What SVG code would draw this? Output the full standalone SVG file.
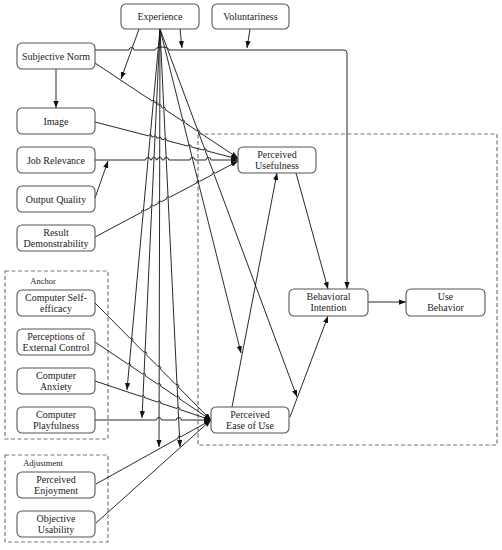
<svg xmlns="http://www.w3.org/2000/svg" width="502" height="550" viewBox="0 0 502 550">
<defs>
<marker id="ah" viewBox="0 0 8 6" refX="8" refY="3" markerWidth="7" markerHeight="5.5" markerUnits="userSpaceOnUse" orient="auto">
<path d="M0,0 L8,3 L0,6 z" fill="#111"/>
</marker>
</defs>
<style>
.n rect{fill:#fff;stroke:#555;stroke-width:1.1}
text{font-family:"Liberation Serif","DejaVu Serif",serif;font-size:10px;fill:#222;text-anchor:middle}
.lbl{font-size:8.5px}
.grp{fill:none;stroke:#777;stroke-width:1.2;stroke-dasharray:4,2.5}
#edges path,#edges line{fill:none;stroke:#111;stroke-width:0.9}
.a{marker-end:url(#ah)}
</style>
<rect width="502" height="550" fill="#fff"/>
<g id="groups">
<rect class="grp" x="198" y="134" width="299" height="311"/>
<rect class="grp" x="5" y="271" width="103" height="168"/>
<text class="lbl" x="43" y="284">Anchor</text>
<rect class="grp" x="5" y="455" width="103" height="87"/>
<text class="lbl" x="43" y="466">Adjustment</text>
</g>
<g id="edges">
<path class="a" d="M95,50 H129 A2.5,2.5 0 0 1 134,50 H155 A7,3 0 0 1 169,50 H344 Q347,50 347,53 V289"/>
<line class="a" x1="180" y1="29" x2="182" y2="48"/>
<line class="a" x1="250" y1="29" x2="247" y2="48"/>
<line class="a" x1="139" y1="29" x2="121" y2="79"/>
<line class="a" x1="56" y1="69" x2="56" y2="108"/>
<path class="a" d="M95,63 L151.97,100.92 A1.6,1.6 0 0 1 154.63,102.69 L155.17,103.02 A1.6,1.6 0 0 1 157.83,104.79 L158.47,105.12 A1.6,1.6 0 0 1 161.13,106.89 L162.47,107.82 A1.6,1.6 0 0 1 165.13,109.59 L181.77,120.62 A1.6,1.6 0 0 1 184.43,122.39 L196.87,130.72 A1.6,1.6 0 0 1 199.53,132.49 L238,158"/>
<path class="a" d="M95,122 L148.55,135.9 A1.6,1.6 0 0 1 151.65,136.7 L153.45,137.1 A1.6,1.6 0 0 1 156.55,137.9 L158.15,138.3 A1.6,1.6 0 0 1 161.25,139.1 L163.75,139.8 A1.6,1.6 0 0 1 166.85,140.6 L187.85,146.0 A1.6,1.6 0 0 1 190.95,146.8 L203.65,150.1 A1.6,1.6 0 0 1 206.75,150.9 L238,159"/>
<path class="a" d="M95,160 H145.5 A2.5,2.5 0 0 1 150.5,160 H151.5 A2.5,2.5 0 0 1 156.5,160 H157.2 A2.5,2.5 0 0 1 162.2,160 H163.8 A2.5,2.5 0 0 1 168.8,160 H190 A2.5,2.5 0 0 1 195,160 H206 A2.5,2.5 0 0 1 211,160 H238"/>
<line class="a" x1="95" y1="198" x2="108" y2="161"/>
<path class="a" d="M95,237 L141.79,212.15 A1.6,1.6 0 0 1 144.61,210.65 L150.39,207.55 A1.6,1.6 0 0 1 153.21,206.05 L158.39,203.35 A1.6,1.6 0 0 1 161.21,201.85 L166.79,198.85 A1.6,1.6 0 0 1 169.61,197.35 L196.79,182.95 A1.6,1.6 0 0 1 199.61,181.45 L212.49,174.55 A1.6,1.6 0 0 1 215.31,173.05 L238,161"/>
<line class="a" x1="160" y1="29" x2="127" y2="390"/>
<line class="a" x1="160" y1="29" x2="142" y2="418"/>
<line class="a" x1="160" y1="29" x2="159" y2="447"/>
<line class="a" x1="160" y1="29" x2="180" y2="447"/>
<line class="a" x1="160" y1="29" x2="241" y2="353"/>
<line class="a" x1="160" y1="29" x2="297" y2="397"/>
<path class="a" d="M95,303 L130.27,338.56 A1.6,1.6 0 0 1 132.53,340.84 L143.87,352.26 A1.6,1.6 0 0 1 146.13,354.54 L158.07,366.56 A1.6,1.6 0 0 1 160.33,368.84 L175.97,384.66 A1.6,1.6 0 0 1 178.23,386.94 L211,420"/>
<path class="a" d="M95,342 L127.77,364.01 A1.6,1.6 0 0 1 130.43,365.79 L142.67,374.11 A1.6,1.6 0 0 1 145.33,375.89 L157.77,384.21 A1.6,1.6 0 0 1 160.43,385.99 L176.37,396.71 A1.6,1.6 0 0 1 179.03,398.49 L211,420"/>
<path class="a" d="M95,381 L141.48,396.59 A1.6,1.6 0 0 1 144.52,397.61 L157.58,402.09 A1.6,1.6 0 0 1 160.62,403.11 L176.72,408.49 A1.6,1.6 0 0 1 179.76,409.51 L211,420"/>
<path class="a" d="M95,420 H156.5 A2.5,2.5 0 0 1 161.5,420 H176.3 A2.5,2.5 0 0 1 181.3,420 H211"/>
<path class="a" d="M96,484 L178.2,438.28 A1.6,1.6 0 0 1 181,436.72 L211,420"/>
<line class="a" x1="96" y1="523" x2="211" y2="420"/>
<line class="a" x1="296" y1="173" x2="328" y2="289"/>
<line class="a" x1="232" y1="407" x2="277" y2="173"/>
<line class="a" x1="290" y1="417" x2="328" y2="316"/>
<line class="a" x1="368" y1="302" x2="406" y2="302"/>
</g>
<g id="experience" class="n"><rect x="121" y="4" width="78" height="25" rx="5"/><text x="160" y="20">Experience</text></g>
<g id="voluntariness" class="n"><rect x="212" y="4" width="77" height="25" rx="5"/><text x="250.5" y="20">Voluntariness</text></g>
<g id="subjective-norm" class="n"><rect x="17" y="43" width="78" height="26" rx="5"/><text x="56" y="59.5">Subjective Norm</text></g>
<g id="image" class="n"><rect x="17" y="108" width="78" height="26" rx="5"/><text x="56" y="124.5">Image</text></g>
<g id="job-relevance" class="n"><rect x="17" y="147" width="78" height="26" rx="5"/><text x="56" y="163.5">Job Relevance</text></g>
<g id="output-quality" class="n"><rect x="17" y="186" width="78" height="26" rx="5"/><text x="56" y="202.5">Output Quality</text></g>
<g id="result-demonstrability" class="n"><rect x="17" y="225" width="78" height="26" rx="5"/><text x="56" y="235.5">Result</text><text x="56" y="246.5">Demonstrability</text></g>
<g id="computer-self-efficacy" class="n"><rect x="17" y="290" width="78" height="26" rx="5"/><text x="56" y="300.5">Computer Self-</text><text x="56" y="311.5">efficacy</text></g>
<g id="perceptions-external-control" class="n"><rect x="17" y="329" width="78" height="26" rx="5"/><text x="56" y="339.5">Perceptions of</text><text x="56" y="350.5">External Control</text></g>
<g id="computer-anxiety" class="n"><rect x="17" y="368" width="78" height="26" rx="5"/><text x="56" y="378.5">Computer</text><text x="56" y="389.5">Anxiety</text></g>
<g id="computer-playfulness" class="n"><rect x="17" y="407" width="78" height="26" rx="5"/><text x="56" y="417.5">Computer</text><text x="56" y="428.5">Playfulness</text></g>
<g id="perceived-enjoyment" class="n"><rect x="17" y="472" width="78" height="26" rx="5"/><text x="56" y="482.5">Perceived</text><text x="56" y="493.5">Enjoyment</text></g>
<g id="objective-usability" class="n"><rect x="17" y="511" width="78" height="26" rx="5"/><text x="56" y="521.5">Objective</text><text x="56" y="532.5">Usability</text></g>
<g id="perceived-usefulness" class="n"><rect x="238" y="147" width="78" height="26" rx="5"/><text x="277" y="157.5">Perceived</text><text x="277" y="168.5">Usefulness</text></g>
<g id="behavioral-intention" class="n"><rect x="289" y="289" width="79" height="27" rx="5"/><text x="328.5" y="300">Behavioral</text><text x="328.5" y="311">Intention</text></g>
<g id="use-behavior" class="n"><rect x="406" y="289" width="79" height="27" rx="5"/><text x="445.5" y="300">Use</text><text x="445.5" y="311">Behavior</text></g>
<g id="perceived-ease-of-use" class="n"><rect x="211" y="407" width="78" height="26" rx="5"/><text x="250" y="417.5">Perceived</text><text x="250" y="428.5">Ease of Use</text></g>
</svg>
